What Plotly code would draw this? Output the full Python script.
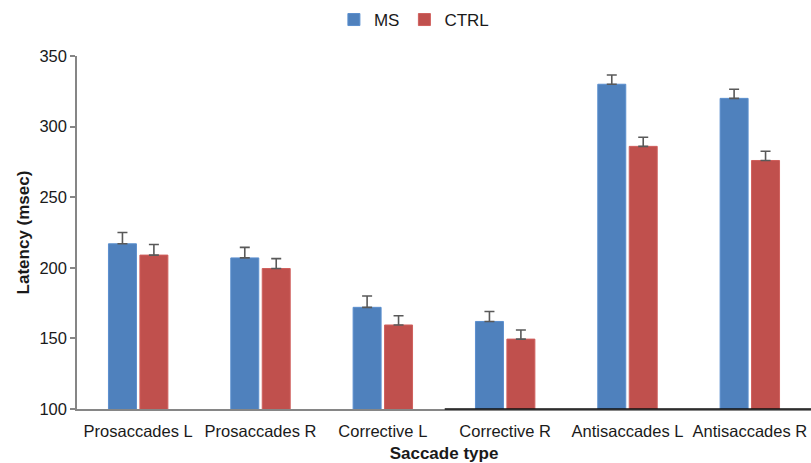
import plotly.graph_objects as go

categories = ["Prosaccades L", "Prosaccades R", "Corrective L", "Corrective R", "Antisaccades L", "Antisaccades R"]
ms_values = [217, 207, 172, 162, 330, 320]
ctrl_values = [209, 199.5, 159.5, 149.5, 286, 276]
ms_err = [8, 7.5, 8, 7, 6.5, 6.5]
ctrl_err = [7.5, 7, 6.5, 6.5, 6.5, 6.5]
zeros = [0] * len(categories)

FONT = "Liberation Sans"
err_style = dict(type="data", symmetric=False, color="#595959", thickness=1.6, width=5)

fig = go.Figure()
fig.add_trace(go.Bar(name="MS", x=categories, y=ms_values,
                     marker=dict(color="#4F81BD", line=dict(color="#5B8FCE", width=1)),
                     error_y=dict(array=ms_err, arrayminus=zeros, **err_style)))
fig.add_trace(go.Bar(name="CTRL", x=categories, y=ctrl_values,
                     marker=dict(color="#C0504D", line=dict(color="#D0605D", width=1)),
                     error_y=dict(array=ctrl_err, arrayminus=zeros, **err_style)))

fig.update_layout(
    width=811, height=463,
    margin=dict(l=77, r=0, t=56, b=54, autoexpand=False),
    paper_bgcolor="white", plot_bgcolor="white",
    barmode="group", bargap=0.486, bargroupgap=0.11,
    font=dict(family=FONT, size=16.5, color="#1a1a1a"),
    legend=dict(orientation="h", x=0.459, xanchor="center", y=1.102, yanchor="middle",
                font=dict(size=17), itemwidth=30, traceorder="normal"),
    showlegend=True,
)
fig.update_xaxes(showline=True, linecolor="#868686", linewidth=1.5, ticks="",
                 range=[-0.5, 5.5], ticklabelstandoff=6, automargin=False,
                 title=dict(text="<b>Saccade type</b>", font=dict(size=17), standoff=15),
                 tickfont=dict(size=16.5))
fig.update_yaxes(range=[100, 350], tickvals=[100, 150, 200, 250, 300, 350],
                 showline=True, linecolor="#868686", linewidth=1.5, automargin=False,
                 ticks="outside", ticklen=5, tickcolor="#868686", tickwidth=1.5,
                 showgrid=False, zeroline=False,
                 title=dict(text="<b>Latency (msec)</b>", font=dict(size=17), standoff=5),
                 tickfont=dict(size=16.5))
fig.add_shape(type="line", xref="paper", yref="paper", x0=0.501, x1=1, y0=0, y1=0,
              line=dict(color="#111111", width=1.5))

fig.write_html("out.html", config={"displayModeBar": False},
               post_script="document.body.style.margin='0';document.body.style.overflow='hidden';")
